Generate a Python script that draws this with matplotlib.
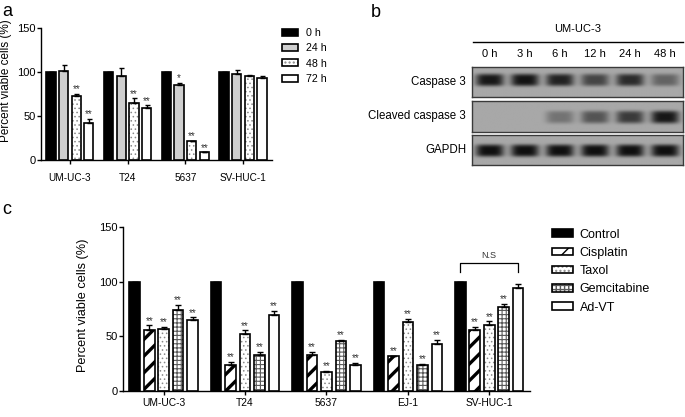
import numpy as np
import matplotlib.pyplot as plt
from matplotlib.patches import Patch

plt.rcParams['font.family'] = ['Liberation Sans', 'DejaVu Sans']

# ------------------------------------------------------------
# Data
# ------------------------------------------------------------
# panel a: viability over time
lines_a = ["UM-UC-3", "T24", "5637", "SV-HUC-1"]
times_a = ["0 h", "24 h", "48 h", "72 h"]
viab_a_0h = [100, 100, 100, 100]
viab_a_24h = [101.5, 95, 85.7, 98]
viab_a_48h = [72.8, 65, 21.5, 95]
viab_a_72h = [42.3, 59.2, 8.7, 93.6]
err_a_0h = [0, 0, 0, 0]
err_a_24h = [7, 9.5, 2.3, 4]
err_a_48h = [2.7, 5, 0.6, 2]
err_a_72h = [4.5, 2.8, 0.4, 2.4]
stars_a_0h = ["", "", "", ""]
stars_a_24h = ["", "", "*", ""]
stars_a_48h = ["**", "**", "**", ""]
stars_a_72h = ["**", "**", "**", ""]

# panel b: band intensities (0 = none, 1 = saturated)
lanes_b = ["0 h", "3 h", "6 h", "12 h", "24 h", "48 h"]
rows_b = ["Caspase 3", "Cleaved caspase 3", "GAPDH"]
casp3_int = [0.95, 0.97, 0.88, 0.65, 0.82, 0.45]
cleaved_int = [0.0, 0.0, 0.35, 0.55, 0.72, 0.95]
gapdh_int = [1.0, 1.0, 1.0, 1.0, 1.0, 1.0]

# panel c: drug comparison
lines_c = ["UM-UC-3", "T24", "5637", "EJ-1", "SV-HUC-1"]
treat_c = ["Control", "Cisplatin", "Taxol", "Gemcitabine", "Ad-VT"]
control_c = [100, 100, 100, 100, 100]
cisplatin_c = [56, 24, 33.3, 31.6, 56]
taxol_c = [56.7, 52.4, 17.6, 63.5, 60.8]
gemcitabine_c = [74.5, 33.3, 46, 24, 77.2]
advt_c = [64.5, 69.4, 24, 43, 94.5]
err_control_c = [0, 0, 0, 0, 0]
err_cisplatin_c = [4, 2.4, 2.2, 0.8, 2.4]
err_taxol_c = [1.8, 3.1, 0.5, 2.5, 3]
err_gemcitabine_c = [4.3, 2.7, 1, 1, 2.4]
err_advt_c = [2.8, 3.6, 1.5, 3.5, 3.4]
stars_control_c = ["", "", "", "", ""]
stars_treat_c = ["**", "**", "**", "**", "**"]
stars_advt_c = ["**", "**", "**", "**", ""]

fig = plt.figure(figsize=(6.85, 4.17), dpi=100)


def draw_bars(ax, xs, vals, width, face, hatch=None, hcolor="black", hlw=1.0):
    if hatch:
        with plt.rc_context({"hatch.linewidth": hlw}):
            ax.bar(xs, vals, width, color=face, edgecolor=hcolor, hatch=hatch,
                   linewidth=0, zorder=2)
        face = "none"
    ax.bar(xs, vals, width, facecolor=face, edgecolor="black", linewidth=1.2, zorder=3)


def legend_handle(face, hatch=None, hcolor="black", hlw=1.0):
    if hatch:
        with plt.rc_context({"hatch.linewidth": hlw}):
            h1 = Patch(facecolor=face, edgecolor=hcolor, hatch=hatch, linewidth=0)
        h2 = Patch(facecolor="none", edgecolor="black", linewidth=1.2)
        return (h1, h2)
    return Patch(facecolor=face, edgecolor="black", linewidth=1.2)


def style_axis(ax):
    for s in ["top", "right"]:
        ax.spines[s].set_visible(False)
    for s in ["left", "bottom"]:
        ax.spines[s].set_linewidth(1.0)
    ax.set_ylim(0, 150)
    ax.set_yticks([0, 50, 100, 150])


# ------------------------------------------------------------
# Panel a
# ------------------------------------------------------------
ax_a = fig.add_axes([0.0599, 0.6163, 0.337, 0.3165])
x_a = np.arange(len(lines_a))
vals_a = [viab_a_0h, viab_a_24h, viab_a_48h, viab_a_72h]
errs_a = [err_a_0h, err_a_24h, err_a_48h, err_a_72h]
stars_a = [stars_a_0h, stars_a_24h, stars_a_48h, stars_a_72h]
styles_a = [
    dict(face="black"),
    dict(face="#cfcfcf"),
    dict(face="white", hatch="....", hcolor="#8a8a8a", hlw=0.6),
    dict(face="white"),
]
pitch_a, width_a = 0.219, 0.16
for i in range(4):
    xs = x_a + (i - 1.5) * pitch_a
    draw_bars(ax_a, xs, vals_a[i], width_a, **styles_a[i])
    ax_a.errorbar(xs, vals_a[i], yerr=[np.zeros(4), errs_a[i]], fmt="none",
                  ecolor="black", elinewidth=1.0, capsize=1.8, capthick=1.0, zorder=4)
    for xx, v, e, s in zip(xs, vals_a[i], errs_a[i], stars_a[i]):
        if s:
            ax_a.text(xx, v + e + 1.5, s, ha="center", va="baseline", fontsize=7,
                      color="#333333")
style_axis(ax_a)
ax_a.set_xlim(-0.5, 3.5)
ax_a.set_xticks(x_a)
ax_a.set_xticklabels(lines_a, fontsize=7.2)
ax_a.tick_params(axis="x", length=3, width=1.0, pad=6)
ax_a.tick_params(axis="y", length=3, width=1.0, pad=1, labelsize=8)
ax_a.set_ylabel("Percent viable cells (%)", fontsize=8.5)
ax_a.yaxis.set_label_coords(-0.125, 0.6)

handles_a = [legend_handle(**st) for st in styles_a]
ax_a.legend(handles_a, times_a, loc="upper left", bbox_to_anchor=(0.4117, 0.933),
            bbox_transform=fig.transFigure, frameon=False, fontsize=7.7,
            handlelength=1.5, handleheight=0.65, handletextpad=0.7,
            labelspacing=0.5, borderpad=0, borderaxespad=0)

# ------------------------------------------------------------
# Panel b: western blot
# ------------------------------------------------------------
row_pos = [
    [0.689, 0.7674, 0.308, 0.0719],
    [0.689, 0.6835, 0.308, 0.0743],
    [0.689, 0.6043, 0.308, 0.0719],
]
row_int = [casp3_int, cleaved_int, gapdh_int]
row_yc = [0.57, 0.48, 0.48]
bg, dark = 0.66, 0.06
gx, gy = np.meshgrid(np.linspace(0, 6, 300), np.linspace(1, 0, 40))
blot_axes = []
for r in range(3):
    axb = fig.add_axes(row_pos[r])
    img = np.full(gx.shape, bg)
    for j, inten in enumerate(row_int[r]):
        band = np.exp(-((gx - (j + 0.5)) / 0.40) ** 4 - ((gy - row_yc[r]) / 0.21) ** 4)
        img -= inten * (bg - dark) * band
    axb.imshow(img, cmap="gray", vmin=0, vmax=1, extent=(0, 6, 0, 1),
               aspect="auto", interpolation="bilinear")
    axb.set_xlim(0, 6)
    axb.set_ylim(0, 1)
    axb.set_xticks([])
    axb.set_yticks([])
    for s in axb.spines.values():
        s.set_color("#3a3a3a")
        s.set_linewidth(1.0)
    axb.text(-0.028, 0.5, rows_b[r], transform=axb.transAxes, ha="right",
             va="center", fontsize=8.3)
    blot_axes.append(axb)

top_ax = blot_axes[0]
xt = top_ax.get_xaxis_transform()
for j, lab in enumerate(lanes_b):
    top_ax.text(j + 0.5, 1.43, lab, transform=xt, ha="center", va="center", fontsize=8)
top_ax.plot([0.03, 6], [1.83, 1.83], transform=xt, color="black", lw=1.0, clip_on=False)
top_ax.text(3.0, 2.27, "UM-UC-3", transform=xt, ha="center", va="center", fontsize=8)

# ------------------------------------------------------------
# Panel c
# ------------------------------------------------------------
ax_c = fig.add_axes([0.1796, 0.0624, 0.594, 0.3933])
x_c = np.arange(len(lines_c))
vals_c = [control_c, cisplatin_c, taxol_c, gemcitabine_c, advt_c]
errs_c = [err_control_c, err_cisplatin_c, err_taxol_c, err_gemcitabine_c, err_advt_c]
stars_c = [stars_control_c, stars_treat_c, stars_treat_c, stars_treat_c, stars_advt_c]
styles_c = [
    dict(face="black"),
    dict(face="white", hatch="//", hcolor="black", hlw=2.4),
    dict(face="white", hatch="....", hcolor="#8a8a8a", hlw=0.6),
    dict(face="white", hatch="++++", hcolor="#5a5a5a", hlw=0.8),
    dict(face="white"),
]
pitch_c, width_c = 0.178, 0.13
for i in range(5):
    xs = x_c + (i - 2) * pitch_c
    draw_bars(ax_c, xs, vals_c[i], width_c, **styles_c[i])
    ax_c.errorbar(xs, vals_c[i], yerr=[np.zeros(5), errs_c[i]], fmt="none",
                  ecolor="black", elinewidth=1.0, capsize=2.2, capthick=1.0, zorder=4)
    for xx, v, e, s in zip(xs, vals_c[i], errs_c[i], stars_c[i]):
        if s:
            ax_c.text(xx, v + e + 1.5, s, ha="center", va="baseline", fontsize=7,
                      color="#333333")
style_axis(ax_c)
ax_c.set_xlim(-0.5, 4.5)
ax_c.set_xticks(x_c)
ax_c.set_xticklabels(lines_c, fontsize=7.4)
ax_c.tick_params(axis="x", length=3, width=1.0, pad=2)
ax_c.tick_params(axis="y", length=3, width=1.0, pad=1, labelsize=8)
ax_c.set_ylabel("Percent viable cells (%)", fontsize=9.2)
ax_c.yaxis.set_label_coords(-0.084, 0.524)

# N.S bracket over SV-HUC-1
x_left = x_c[4] - 2 * pitch_c
x_right = x_c[4] + 2 * pitch_c
ax_c.plot([x_left, x_left, x_right, x_right], [109, 117, 117, 109], color="black",
          lw=0.9, clip_on=False)
ax_c.text(x_c[4], 120, "N.S", ha="center", va="bottom", fontsize=6.5, color="#333333")

handles_c = [legend_handle(**st) for st in styles_c]
ax_c.legend(handles_c, treat_c, loc="upper left", bbox_to_anchor=(0.806, 0.452),
            bbox_transform=fig.transFigure, frameon=False, fontsize=9,
            handlelength=1.7, handleheight=0.56, handletextpad=0.5,
            labelspacing=0.5, borderpad=0, borderaxespad=0)

# panel letters
fig.text(0.003, 0.993, "a", fontsize=13, va="top", ha="left")
fig.text(0.541, 0.990, "b", fontsize=13, va="top", ha="left")
fig.text(0.003, 0.517, "c", fontsize=13, va="top", ha="left")

fig.savefig("out.png", dpi=100)
